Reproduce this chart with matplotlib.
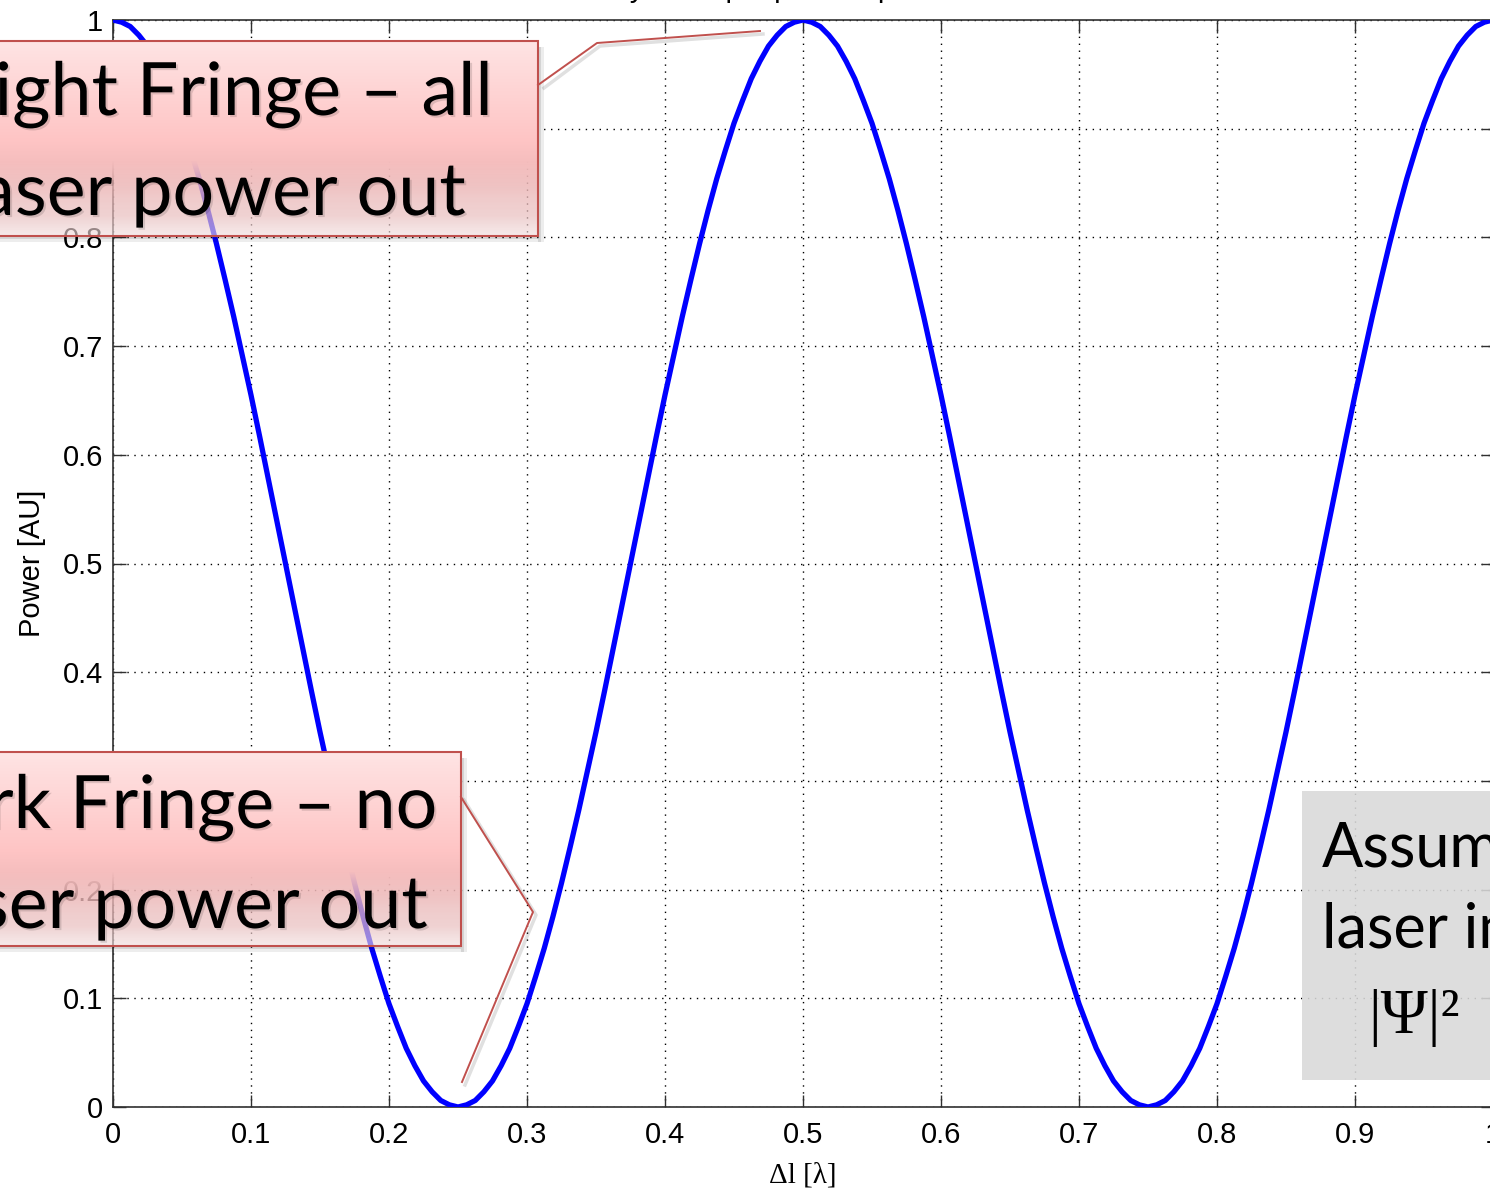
import numpy as np
import matplotlib.pyplot as plt
import matplotlib.patheffects as pe
from matplotlib.patches import Rectangle
from matplotlib.transforms import ScaledTranslation

power = [1.000, 0.998, 0.994, 0.986, 0.976, 0.962, 0.946, 0.926, 0.905, 0.880,
         0.854, 0.825, 0.794, 0.761, 0.727, 0.691, 0.655, 0.617, 0.578, 0.539,
         0.500, 0.461, 0.422, 0.383, 0.345, 0.309, 0.273, 0.239, 0.206, 0.175,
         0.146, 0.120, 0.095, 0.074, 0.054, 0.038, 0.024, 0.014, 0.006, 0.002,
         0.000, 0.002, 0.006, 0.014, 0.024, 0.038, 0.054, 0.074, 0.095, 0.120,
         0.146, 0.175, 0.206, 0.239, 0.273, 0.309, 0.345, 0.383, 0.422, 0.461,
         0.500, 0.539, 0.578, 0.617, 0.655, 0.691, 0.727, 0.761, 0.794, 0.825,
         0.854, 0.880, 0.905, 0.926, 0.946, 0.962, 0.976, 0.986, 0.994, 0.998,
         1.000, 0.998, 0.994, 0.986, 0.976, 0.962, 0.946, 0.926, 0.905, 0.880,
         0.854, 0.825, 0.794, 0.761, 0.727, 0.691, 0.655, 0.617, 0.578, 0.539,
         0.500, 0.461, 0.422, 0.383, 0.345, 0.309, 0.273, 0.239, 0.206, 0.175,
         0.146, 0.120, 0.095, 0.074, 0.054, 0.038, 0.024, 0.014, 0.006, 0.002,
         0.000, 0.002, 0.006, 0.014, 0.024, 0.038, 0.054, 0.074, 0.095, 0.120,
         0.146, 0.175, 0.206, 0.239, 0.273, 0.309, 0.345, 0.383, 0.422, 0.461,
         0.500, 0.539, 0.578, 0.617, 0.655, 0.691, 0.727, 0.761, 0.794, 0.825,
         0.854, 0.880, 0.905, 0.926, 0.946, 0.962, 0.976, 0.986, 0.994, 0.998,
         1.000]
delta_l = np.linspace(0, 1, len(power))

x_ticks = [0, 0.1, 0.2, 0.3, 0.4, 0.5, 0.6, 0.7, 0.8, 0.9, 1]
y_ticks = [0, 0.1, 0.2, 0.3, 0.4, 0.5, 0.6, 0.7, 0.8, 0.9, 1]

W, H = 1490, 1191
fig = plt.figure(figsize=(W / 100, H / 100), dpi=100)
plt.rcParams['font.family'] = ['Liberation Sans', 'DejaVu Sans']

# main MATLAB-style axes (right edge runs slightly past the picture)
ax = fig.add_axes([113 / W, 84 / H, 1380 / W, 1087 / H])
ax.plot(delta_l, power, color='#0000ff', linewidth=3.8, zorder=3)
ax.set_xlim(0, 1)
ax.set_ylim(0, 1)
ax.set_xticks(x_ticks)
ax.set_yticks(y_ticks)
ax.set_xticklabels([f'{v:g}' for v in x_ticks])
ax.set_yticklabels([f'{v:g}' for v in y_ticks])
ax.tick_params(direction='in', length=9, width=1.0, color='#303030',
               labelsize=21, top=True, right=True)
ax.tick_params(axis='x', pad=10)
ax.tick_params(axis='y', pad=7)
for s in ax.spines.values():
    s.set_color('#303030')
    s.set_linewidth(1.2)
ax.grid(True, color='black', linestyle=(0, (1, 4)), linewidth=1.0)
ax.set_xlabel('Δl [λ]', fontsize=21, labelpad=10, family=['Liberation Serif', 'DejaVu Serif'])
ax.set_ylabel('Power [AU]', fontsize=21, labelpad=12)

# title is mostly cut off at the top edge
fig.text(803 / W, 1 + 3 / H, 'Intensity at output port vs. path difference',
         ha='center', va='baseline', fontsize=21)

# overlay in pixel coordinates for the slide callouts
ov = fig.add_axes([0, 0, 1, 1], facecolor='none')
ov.set_zorder(10)
ov.axis('off')

red = '#c0504d'
shift = ov.transData + ScaledTranslation(0.03, -0.03, fig.dpi_scale_trans)


def pink_box(x0, y0, x1, y1):
    t = np.linspace(0, 1, 300)
    stops = [0.0, 0.5, 0.75, 0.9, 1.0]
    r = np.interp(t, stops, [254, 255, 236, 233, 241]) / 255
    g = np.interp(t, stops, [228, 197, 182, 190, 222]) / 255
    b = np.interp(t, stops, [228, 197, 182, 190, 222]) / 255
    a = np.interp(t, [0.0, 0.62, 0.8, 1.0], [1.0, 1.0, 0.75, 0.62])
    img = np.stack([r, g, b, a], axis=1)[:, None, :]
    # soft shadow on the right and bottom only
    for k, al in [(3, 0.10), (6, 0.07)]:
        ov.add_patch(Rectangle((x1, y0 + 6), k, y1 - y0, facecolor='black',
                               alpha=al, edgecolor='none'))
        ov.add_patch(Rectangle((x0 + 6, y1), x1 - x0 - 6, k, facecolor='black',
                               alpha=al, edgecolor='none'))
    ov.imshow(img, extent=(x0, x1, y1, y0), aspect='auto', origin='upper',
              interpolation='bilinear')
    ov.add_patch(Rectangle((x0, y0), x1 - x0, y1 - y0, facecolor='none',
                           edgecolor=red, linewidth=1.5))


callout_font = ['Lato', 'DejaVu Sans']
txt_shadow = [pe.withSimplePatchShadow(offset=(1.5, -1.5), shadow_rgbFace='black', alpha=0.13)]

# bright fringe callout
pink_box(-30, 41, 538, 236)
ov.plot([541, 597, 760], [85, 43, 31], color='black', alpha=0.12, linewidth=2.5, transform=shift)
ov.plot([538, 597, 760], [85, 43, 31], color=red, linewidth=1.4)
ov.text(493, 115, 'Bright Fringe – all', ha='right', va='baseline', fontsize=53,
        family=callout_font, path_effects=txt_shadow)
ov.text(466, 215, 'laser power out', ha='right', va='baseline', fontsize=53,
        family=callout_font, path_effects=txt_shadow)

# dark fringe callout
pink_box(-30, 752, 461, 946)
ov.plot([461, 533, 462], [797, 912, 1082], color='black', alpha=0.12, linewidth=2.5, transform=shift)
ov.plot([461, 533, 462], [797, 912, 1082], color=red, linewidth=1.4)
ov.text(438, 828, 'Dark Fringe – no', ha='right', va='baseline', fontsize=53,
        family=callout_font, path_effects=txt_shadow)
ov.text(428, 928, 'laser power out', ha='right', va='baseline', fontsize=53,
        family=callout_font, path_effects=txt_shadow)

# grey note box on the right
ov.add_patch(Rectangle((1302, 791), 260, 289, facecolor='#d9d9d9', alpha=0.88,
                       edgecolor='none'))
ov.text(1322, 866, 'Assuming', ha='left', va='baseline', fontsize=44, family=callout_font)
ov.text(1322, 948, 'laser intensity ∝', ha='left', va='baseline', fontsize=44, family=callout_font)
ov.text(1368, 1033, '|Ψ|²', ha='left', va='baseline', fontsize=46,
        family=['Liberation Serif', 'DejaVu Serif'])

ov.set_xlim(0, W)
ov.set_ylim(H, 0)

fig.savefig('out.png', dpi=100)
